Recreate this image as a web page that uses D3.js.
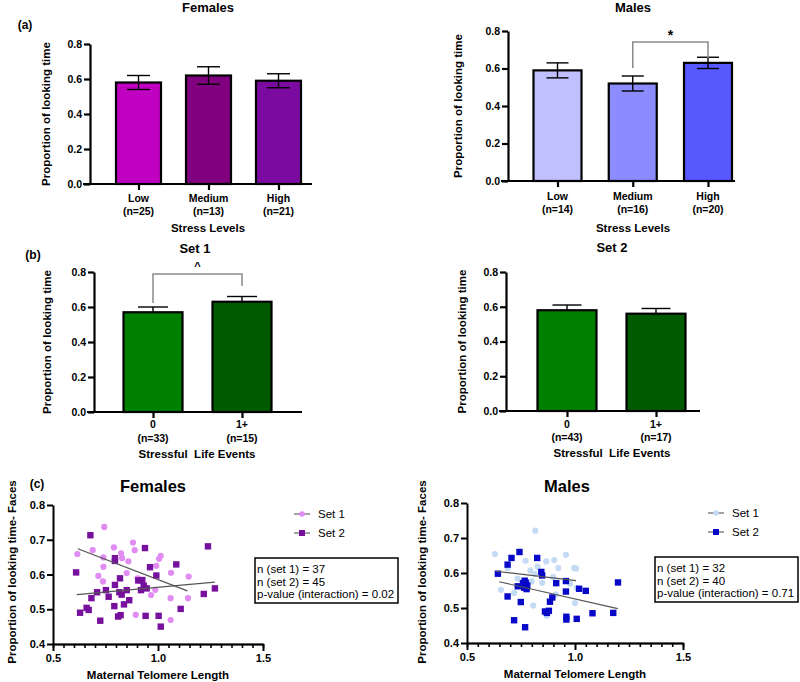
<!DOCTYPE html>
<html>
<head>
<meta charset="utf-8">
<script src="https://cdn.jsdelivr.net/npm/d3@7"></script>
<style>
body { margin: 0; background: #fff; }
svg { font-family: "Liberation Sans", Arial, sans-serif; }
</style>
</head>
<body>
<svg id="chart" width="800" height="682"></svg>
<script>
// ---- data ----
const barTicks = [0, 0.2, 0.4, 0.6, 0.8];

const stressLevels = ["Low", "Medium", "High"];
const femaleN = ["(n=25)", "(n=13)", "(n=21)"];
const femaleMeans = [0.58, 0.62, 0.59];
const femaleSem = [0.04, 0.05, 0.04];
const maleN = ["(n=14)", "(n=16)", "(n=20)"];
const maleMeans = [0.59, 0.52, 0.63];
const maleSem = [0.04, 0.04, 0.03];

const lifeEvents = ["0", "1+"];
const set1N = ["(n=33)", "(n=15)"];
const set1Means = [0.57, 0.63];
const set1Sem = [0.03, 0.03];
const set2N = ["(n=43)", "(n=17)"];
const set2Means = [0.58, 0.56];
const set2Sem = [0.03, 0.03];

const telTicks = [0.5, 1.0, 1.5];
const propTicks = [0.4, 0.5, 0.6, 0.7, 0.8];

// [telomere length, proportion]
const femaleSet1 = [[0.744,0.737],[0.616,0.659],[0.689,0.670],[0.790,0.678],[0.881,0.692],[0.889,0.670],
  [0.824,0.661],[0.829,0.647],[0.859,0.638],[0.740,0.649],[0.740,0.622],[0.716,0.596],[0.738,0.580],
  [0.851,0.604],[0.903,0.589],[0.911,0.581],[1.013,0.654],[1.005,0.645],[0.992,0.625],[1.062,0.605],
  [1.146,0.594],[0.987,0.556],[0.967,0.541],[1.060,0.532],[1.143,0.532],[0.894,0.484],[1.060,0.469]];
const femaleSet2 = [[0.678,0.713],[0.610,0.606],[0.795,0.647],[0.795,0.639],[0.938,0.676],[0.962,0.621],
  [1.087,0.629],[1.238,0.681],[0.992,0.597],[0.819,0.589],[0.795,0.570],[0.906,0.583],[0.925,0.584],
  [0.932,0.568],[0.946,0.560],[0.919,0.555],[0.851,0.555],[0.752,0.555],[0.710,0.549],[0.816,0.549],
  [0.827,0.542],[0.683,0.532],[0.765,0.536],[0.863,0.526],[0.838,0.514],[0.792,0.509],[0.660,0.504],
  [0.670,0.498],[0.629,0.490],[0.725,0.467],[0.810,0.479],[0.822,0.483],[0.941,0.481],[1.003,0.481],
  [1.013,0.450],[1.108,0.501],[1.218,0.544],[1.271,0.560]];
const maleSet1 = [[0.816,0.721],[0.629,0.654],[0.958,0.652],[0.771,0.635],[0.867,0.633],[0.904,0.637],
  [0.688,0.614],[0.827,0.618],[0.793,0.607],[0.923,0.614],[0.996,0.614],[1.005,0.613],[0.814,0.597],
  [0.734,0.584],[0.899,0.588],[0.848,0.572],[0.799,0.576],[0.978,0.569],[0.657,0.552],[0.718,0.543],
  [1.008,0.557],[0.911,0.538],[1.000,0.514],[0.807,0.507],[0.869,0.478]];
const maleSet2 = [[0.743,0.660],[0.706,0.643],[0.825,0.643],[0.688,0.624],[0.643,0.598],[0.844,0.603],
  [0.848,0.593],[0.767,0.578],[0.772,0.572],[0.759,0.571],[0.735,0.562],[0.779,0.564],[0.776,0.554],
  [0.765,0.558],[0.913,0.571],[0.958,0.577],[0.958,0.547],[1.019,0.555],[1.050,0.549],[1.199,0.573],
  [0.688,0.533],[0.749,0.517],[0.895,0.530],[0.884,0.518],[0.861,0.490],[0.879,0.492],[0.870,0.486],
  [0.960,0.475],[0.960,0.467],[1.008,0.469],[1.081,0.485],[1.177,0.486],[0.718,0.465],[0.769,0.445]];

// regression line end points
const femaleFit1 = [[0.618,0.674],[1.14,0.553]];
const femaleFit2 = [[0.613,0.542],[1.271,0.578]];
const maleFit1 = [[0.632,0.605],[1.005,0.578]];
const maleFit2 = [[0.649,0.575],[1.198,0.498]];

const femaleStats = ["n (set 1) = 37", "n (set 2) = 45", "p-value (interaction) = 0.02"];
const maleStats = ["n (set 1) = 32", "n (set 2) = 40", "p-value (interaction) = 0.71"];

const FONT = '"Liberation Sans", Arial, sans-serif';
const svg = d3.select("#chart");

function label(x, y, txt, size, bold, anchor) {
  return svg.append("text")
    .attr("x", x).attr("y", y)
    .attr("text-anchor", anchor || "middle")
    .attr("font-size", size)
    .attr("font-weight", bold ? "bold" : "normal")
    .style("white-space", "pre")
    .text(txt);
}

function drawBars(p) {
  const g = svg.append("g");
  const y = d3.scaleLinear().domain([0, 0.8]).range([p.bottom, p.top]);
  const x = d3.scalePoint().domain(p.cats).range(p.centers);

  g.selectAll("rect.bar")
    .data(p.means)
    .enter().append("rect")
    .attr("class", "bar")
    .attr("x", (d, i) => x(p.cats[i]) - p.barW / 2)
    .attr("y", d => y(d))
    .attr("width", p.barW)
    .attr("height", d => p.bottom - y(d))
    .attr("fill", (d, i) => p.colors[i])
    .attr("stroke", "#000")
    .attr("stroke-width", 2.2);

  // error bars
  const eb = g.selectAll("g.err")
    .data(p.means)
    .enter().append("g")
    .attr("class", "err")
    .attr("stroke", "#000")
    .attr("stroke-width", 1.4);
  eb.append("line")
    .attr("x1", (d, i) => x(p.cats[i])).attr("x2", (d, i) => x(p.cats[i]))
    .attr("y1", (d, i) => y(p.both ? d - p.sem[i] : d))
    .attr("y2", (d, i) => y(d + p.sem[i]));
  eb.append("line")
    .attr("x1", (d, i) => x(p.cats[i]) - p.capW / 2).attr("x2", (d, i) => x(p.cats[i]) + p.capW / 2)
    .attr("y1", (d, i) => y(d + p.sem[i])).attr("y2", (d, i) => y(d + p.sem[i]));
  if (p.both) {
    eb.append("line")
      .attr("x1", (d, i) => x(p.cats[i]) - p.capW / 2).attr("x2", (d, i) => x(p.cats[i]) + p.capW / 2)
      .attr("y1", (d, i) => y(d - p.sem[i])).attr("y2", (d, i) => y(d - p.sem[i]));
  }

  // y axis
  const ya = g.append("g")
    .attr("transform", `translate(${p.left},0)`)
    .call(d3.axisLeft(y).tickValues(barTicks).tickFormat(d3.format(".1f")).tickSize(6).tickSizeOuter(0));
  ya.attr("font-family", FONT).attr("font-size", 10.5).attr("font-weight", "bold");
  ya.selectAll("path, line").attr("stroke-width", 2.2);
  ya.selectAll("text").attr("x", -8);

  // x axis
  g.append("line")
    .attr("x1", p.left - 7).attr("x2", p.right)
    .attr("y1", p.bottom).attr("y2", p.bottom)
    .attr("stroke", "#000").attr("stroke-width", 2.2);
  const xa = g.append("g")
    .attr("transform", `translate(0,${p.bottom})`)
    .call(d3.axisBottom(x).tickSize(6).tickFormat(""));
  xa.select(".domain").remove();
  xa.selectAll("line").attr("stroke-width", 2.2);

  p.cats.forEach((c, i) => {
    label(x(c), p.bottom + p.lab1, c, 10.5, true);
    label(x(c), p.bottom + p.lab2, p.nLabels[i], 10.5, true);
  });
  label(p.xTitleX, p.bottom + p.lab3, p.xTitle, 11.5, true);
  label(p.titleX, p.titleY, p.title, 13, true);

  svg.append("text")
    .attr("transform", `translate(${p.yLabelX},${(p.top + p.bottom) / 2}) rotate(-90)`)
    .attr("text-anchor", "middle")
    .attr("font-size", 11.5).attr("font-weight", "bold")
    .text("Proportion of looking time");

  if (p.bracket) {
    const b = p.bracket;
    const xa0 = x(p.cats[b.from]), xb0 = x(p.cats[b.to]);
    g.append("path")
      .attr("d", `M${xa0},${y(b.leftEnd)}V${y(b.top)}H${xb0}V${y(b.rightEnd)}`)
      .attr("fill", "none").attr("stroke", "#8a8a8a").attr("stroke-width", 1.5);
    label((xa0 + xb0) / 2, y(b.top) + b.markDy, b.mark, b.markSize, true);
  }
}

function drawScatter(p) {
  const g = svg.append("g");
  const x = d3.scaleLinear().domain([0.5, 1.5]).range([p.left, p.right]);
  const y = d3.scaleLinear().domain([0.4, 0.8]).range([p.bottom, p.top]);

  const minor = d3.range(11, 30).map(k => k * 0.05).filter(v => Math.abs(v * 2 - Math.round(v * 2)) > 0.01);
  const xm = g.append("g").attr("transform", `translate(0,${p.bottom})`)
    .call(d3.axisBottom(x).tickValues(minor).tickSize(4).tickFormat(""));
  xm.selectAll("path, line").attr("stroke-width", 1.6);
  const xa = g.append("g").attr("transform", `translate(0,${p.bottom})`)
    .call(d3.axisBottom(x).tickValues(telTicks).tickFormat(d3.format(".1f")).tickSize(7).tickSizeOuter(0));
  xa.attr("font-family", FONT).attr("font-size", 11).attr("font-weight", "bold");
  xa.selectAll("path, line").attr("stroke-width", 2);
  xa.selectAll("text").attr("y", 10);

  const ya = g.append("g").attr("transform", `translate(${p.left},0)`)
    .call(d3.axisLeft(y).tickValues(propTicks).tickFormat(d3.format(".1f")).tickSize(6).tickSizeOuter(0));
  ya.attr("font-family", FONT).attr("font-size", 11).attr("font-weight", "bold");
  ya.selectAll("path, line").attr("stroke-width", 2);
  ya.selectAll("text").attr("x", -8);

  g.selectAll("circle.s1")
    .data(p.set1)
    .enter().append("circle")
    .attr("class", "s1")
    .attr("cx", d => x(d[0])).attr("cy", d => y(d[1]))
    .attr("r", 3.1)
    .attr("fill", p.c1);
  g.selectAll("rect.s2")
    .data(p.set2)
    .enter().append("rect")
    .attr("class", "s2")
    .attr("x", d => x(d[0]) - 3.2).attr("y", d => y(d[1]) - 3.2)
    .attr("width", 6.4).attr("height", 6.4)
    .attr("fill", p.c2);

  const line = d3.line().x(d => x(d[0])).y(d => y(d[1]));
  [p.fit1, p.fit2].forEach(f => {
    g.append("path").attr("d", line(f))
      .attr("fill", "none").attr("stroke", "#555").attr("stroke-width", 1.2);
  });

  label((p.left + p.right) / 2, p.bottom + 35, "Maternal Telomere Length", 11.5, true);
  svg.append("text")
    .attr("transform", `translate(${p.yLabelX},${p.yLabelY}) rotate(-90)`)
    .attr("text-anchor", "middle")
    .attr("font-size", 11.5).attr("font-weight", "bold")
    .text("Proportion of looking time- Faces");
  label(p.titleX, p.titleY, p.title, 16.5, true);

  // legend
  const lg = svg.append("g").attr("transform", `translate(${p.legX},${p.legY})`);
  ["Set 1", "Set 2"].forEach((s, i) => {
    const row = lg.append("g").attr("transform", `translate(0,${i * 19})`);
    row.append("line").attr("x1", -8).attr("x2", 8).attr("stroke", "#666").attr("stroke-width", 1.2);
    if (i === 0) row.append("circle").attr("r", 2.8).attr("fill", p.c1);
    else row.append("rect").attr("x", -3).attr("y", -3).attr("width", 6).attr("height", 6).attr("fill", p.c2);
    row.append("text").attr("x", 16).attr("y", 4).attr("font-size", 11.5).text(s);
  });

  // stats box
  const bx = svg.append("g").attr("transform", `translate(${p.boxX},${p.boxY})`);
  bx.append("rect").attr("width", 143).attr("height", 45)
    .attr("fill", "#fff").attr("stroke", "#000").attr("stroke-width", 1.5);
  p.stats.forEach((s, i) => {
    bx.append("text").attr("x", 2).attr("y", 15 + i * 12.5).attr("font-size", 11.5).text(s);
  });
}

// ---- panel (a) ----
label(25, 29, "(a)", 12, true);
drawBars({
  cats: stressLevels, nLabels: femaleN, means: femaleMeans, sem: femaleSem, both: true,
  colors: ["#c000c0", "#800080", "#7a0aa0"],
  left: 90, right: 312, top: 44, bottom: 184, centers: [138.5, 278.5], barW: 45, capW: 23,
  lab1: 18, lab2: 31, lab3: 48, xTitle: "Stress Levels", xTitleX: 208,
  title: "Females", titleX: 208, titleY: 12, yLabelX: 50
});
drawBars({
  cats: stressLevels, nLabels: maleN, means: maleMeans, sem: maleSem, both: true,
  colors: ["#c0c0ff", "#8c8cff", "#5858ff"],
  left: 508, right: 735, top: 31, bottom: 181, centers: [557.5, 708], barW: 48, capW: 22,
  lab1: 19, lab2: 32, lab3: 51, xTitle: "Stress Levels", xTitleX: 633,
  title: "Males", titleX: 633, titleY: 12, yLabelX: 462,
  bracket: { from: 1, to: 2, top: 0.741, leftEnd: 0.603, rightEnd: 0.656, mark: "*", markDy: -2, markSize: 14 }
});

// ---- panel (b) ----
label(33, 259, "(b)", 12, true);
drawBars({
  cats: lifeEvents, nLabels: set1N, means: set1Means, sem: set1Sem, both: false,
  colors: ["#008000", "#005a00"],
  left: 94, right: 302, top: 272, bottom: 412, centers: [153, 242], barW: 59, capW: 30,
  lab1: 16, lab2: 30, lab3: 46, xTitle: "Stressful  Life Events", xTitleX: 197,
  title: "Set 1", titleX: 195, titleY: 253, yLabelX: 51,
  bracket: { from: 0, to: 1, top: 0.789, leftEnd: 0.623, rightEnd: 0.72, mark: "^", markDy: -4, markSize: 11 }
});
drawBars({
  cats: lifeEvents, nLabels: set2N, means: set2Means, sem: set2Sem, both: false,
  colors: ["#008000", "#005a00"],
  left: 506, right: 700, top: 272, bottom: 411, centers: [567, 656], barW: 59, capW: 29,
  lab1: 17, lab2: 30, lab3: 46, xTitle: "Stressful  Life Events", xTitleX: 612,
  title: "Set 2", titleX: 612, titleY: 252, yLabelX: 466
});

// ---- panel (c) ----
label(37, 488, "(c)", 12, true);
drawScatter({
  set1: femaleSet1, set2: femaleSet2, fit1: femaleFit1, fit2: femaleFit2,
  c1: "#e08cf2", c2: "#78109e",
  left: 53, right: 263, top: 505, bottom: 644,
  yLabelX: 16, yLabelY: 572, title: "Females", titleX: 153, titleY: 492,
  legX: 302, legY: 514, boxX: 255, boxY: 558, stats: femaleStats
});
drawScatter({
  set1: maleSet1, set2: maleSet2, fit1: maleFit1, fit2: maleFit2,
  c1: "#c4dbf5", c2: "#0808c8",
  left: 467, right: 683, top: 503, bottom: 643,
  yLabelX: 426, yLabelY: 572, title: "Males", titleX: 567, titleY: 492,
  legX: 716, legY: 513, boxX: 655, boxY: 557, stats: maleStats
});
</script>
</body>
</html>
